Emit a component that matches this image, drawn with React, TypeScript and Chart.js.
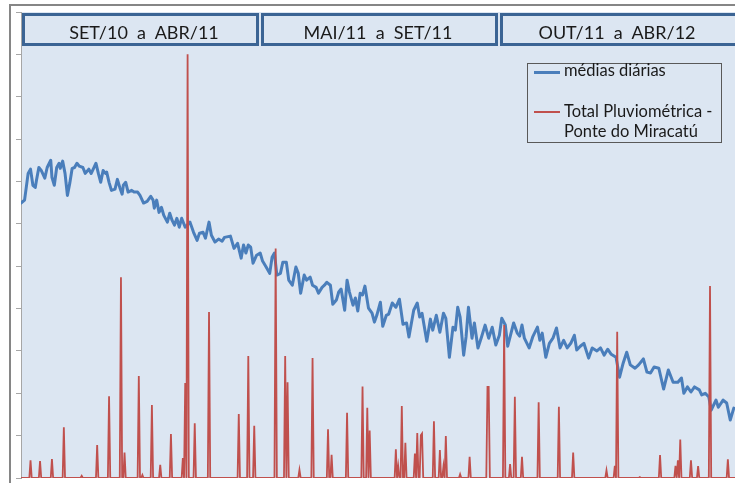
import React, { useEffect, useRef } from "react";
import { Chart, registerables } from "chart.js";

Chart.register(...registerables);

// ---- data (day index from start of SET/10, values in axis units) ----
const blueDays = [
  0, 3, 6, 8, 10, 12, 13, 15, 17, 20, 22, 25, 26, 28, 30, 32, 33, 35, 37, 39,
  41, 43, 45, 47, 49, 52, 54, 57, 59, 61, 63, 65, 67, 69, 71, 72, 74, 76, 79, 81,
  83, 85, 86, 88, 90, 93, 95, 98, 100, 103, 106, 109, 111, 112, 114, 116, 118, 120, 123,
  125, 127, 129, 131, 133, 135, 138, 142, 145, 148, 150, 153, 155, 158, 160, 163, 166, 169, 171, 176,
  179, 182, 185, 187, 189, 191, 193, 195, 198, 201, 203, 206, 209, 211, 213, 215, 218, 220, 223, 225,
  228, 231, 233, 235, 238, 240,
  243, 245, 248, 250, 253, 255, 257, 260, 262, 265, 267, 269, 272, 274, 276, 279, 281, 283, 285, 287,
  289, 292, 295, 297, 299, 302, 304, 307, 309, 312, 315, 318, 321, 324, 326, 330, 333, 335, 337, 341,
  344, 346, 349, 352,
  355, 357, 360, 363, 365, 367, 369, 372, 374, 376, 379, 381, 384, 387, 390, 393, 396, 399, 402, 404,
  407, 409, 411, 414, 417, 419, 421, 423, 427, 430, 434, 436, 438, 441, 444, 447, 450, 453, 456, 459,
  462, 465, 467, 470, 473, 477,
  480, 484, 487, 490, 493, 496, 500, 503, 506, 509, 512, 516, 519, 523, 526, 529, 532, 536, 540, 544,
  548, 552, 555, 557, 560, 563, 566, 570, 572, 575, 578, 580, 584, 586, 590, 593, 596, 599,
];
const blueValues = [
  64.9, 65.6, 71.9, 72.9, 69.1, 68.6, 70.3, 73.3, 72.6, 70.8, 73.3, 75.0, 71.0, 69.1, 73.3, 74.3, 73.1, 74.8, 71.9, 66.7,
  69.6, 73.1, 73.3, 74.3, 73.6, 73.3, 71.9, 72.9, 71.9, 73.1, 74.3, 71.9, 69.8, 72.6, 71.9, 72.2, 69.8, 67.9, 68.2, 70.5,
  68.6, 67.0, 69.1, 69.8, 67.5, 67.9, 67.5, 67.5, 66.7, 64.9, 65.3, 66.5, 65.6, 63.7, 65.6, 62.7, 63.9, 62.0, 60.4,
  62.5, 60.8, 59.7, 61.3, 59.2, 61.3, 59.2, 60.4, 58.0, 56.1, 57.8, 58.0, 56.6, 60.4, 57.3, 55.7, 56.4, 55.9, 56.8, 57.1,
  54.2, 55.4, 51.9, 55.0, 53.1, 55.0, 54.5, 50.7, 52.6, 53.1, 51.2, 49.8, 48.3, 52.1, 53.1, 47.9, 48.3, 50.9, 50.9, 46.7,
  45.5, 49.8, 48.3, 43.6, 47.9, 46.7,
  47.4, 45.5, 45.0, 43.6, 45.0, 45.5, 46.2, 45.5, 41.0, 42.0, 43.9, 44.6, 39.6, 46.7, 43.9, 40.8, 42.5, 39.4, 43.6, 43.2,
  45.3, 40.1, 38.9, 36.8, 38.4, 41.5, 35.8, 38.4, 38.7, 41.3, 40.3, 42.2, 36.3, 36.6, 33.3, 39.6, 41.3, 38.0, 38.9, 32.3,
  37.5, 34.9, 38.4, 34.4,
  38.9, 37.7, 28.5, 35.6, 34.9, 40.3, 38.0, 29.0, 33.3, 40.3, 33.0, 36.6, 30.7, 33.3, 36.1, 33.0, 35.6, 31.4, 33.7, 37.7,
  36.1, 31.1, 33.3, 36.6, 34.2, 33.5, 36.1, 33.0, 30.7, 33.3, 35.6, 32.5, 34.2, 28.5, 31.8, 33.0, 35.4, 30.7, 32.5, 30.7,
  31.8, 33.7, 30.2, 31.1, 31.8, 28.3,
  30.7, 30.0, 30.7, 29.0, 30.4, 29.2, 28.5, 23.8, 27.1, 29.7, 26.7, 25.9, 26.7, 28.1, 25.0, 24.8, 26.2, 25.9, 21.0, 25.5,
  22.6, 22.6, 23.6, 20.0, 21.5, 20.3, 21.5, 20.8, 19.6, 20.0, 19.1, 16.0, 18.4, 16.7, 18.4, 17.7, 13.7, 16.5,
];

// rainfall: days with rain (all other days are zero)
const rainDays = [
  8, 16, 26, 36, 51, 64, 74, 84, 87, 99, 102, 110, 117, 126, 136, 138, 140, 146, 158, 183,
  191, 196, 214, 222, 224, 234, 245, 258, 261, 274, 287, 291, 293, 315, 317, 320, 323, 331, 333, 336,
  337, 347, 352, 355, 357, 369, 377, 392, 393, 406, 411, 415, 421, 435, 452, 464, 492, 499, 501, 520,
  537, 550, 552, 554, 563, 569, 579, 594,
];
const rainValues = [
  4.2, 4.0, 4.5, 12.0, 0.5, 7.8, 19.3, 47.4, 6.0, 24.1, 0.7, 17.2, 3.1, 10.4, 4.7, 22.4, 100.0, 12.9, 39.2, 15.1,
  28.8, 12.3, 54.2, 28.8, 22.6, 1.9, 28.3, 11.5, 5.5, 15.4, 21.6, 16.6, 11.2, 6.8, 2.7, 17.0, 8.3, 5.8, 10.6, 10.1,
  10.5, 13.4, 6.6, 2.7, 9.9, 0.9, 5.0, 21.5, 21.5, 36.1, 3.3, 19.2, 5.0, 17.9, 16.8, 6.0, 1.8, 2.9, 34.5, 0.2,
  5.4, 2.9, 4.2, 9.1, 4.2, 2.8, 45.3, 4.4,
];

const periodLabels = ["SET/10  a  ABR/11", "MAI/11  a  SET/11", "OUT/11  a  ABR/12"];
const seriesNames = ["médias diárias", "Total Pluviométrica -", "Ponte do Miracatú"];

const X_MIN = 0;
const X_MAX = 600;
const Y_MIN = 0;
const Y_MAX = 110;
const Y_STEP = 10;

// ---- styles ----
const PLOT_BG = "#dce6f2";
const BLUE = "#4a7ebb";
const RED = "#c0504d";
const BOX_BORDER = "#3b6494";
const FONT = "Lato, 'Open Sans', sans-serif";

const headerBoxes = [
  { left: 22, width: 237, cx: 144 },
  { left: 261, width: 237, cx: 378 },
  { left: 500, width: 240, cx: 617 },
];

export default function App() {
  const ref = useRef<HTMLCanvasElement>(null);

  useEffect(() => {
    if (!ref.current) return;
    const rainMap = new Map<number, number>(rainDays.map((d, i) => [d, rainValues[i]]));
    const rainTable: { x: number; y: number }[] = [];
    for (let d = X_MIN; d <= X_MAX; d++) rainTable.push({ x: d, y: rainMap.get(d) ?? 0 });
    const bluePoints = blueDays.map((d, i) => ({ x: d, y: blueValues[i] }));

    const plotBg = {
      id: "plotBg",
      beforeDraw(chart: any) {
        const { ctx, chartArea: a } = chart;
        ctx.save();
        ctx.fillStyle = PLOT_BG;
        ctx.fillRect(a.left, a.top, a.right - a.left, a.bottom - a.top);
        ctx.restore();
      },
    };

    const chart = new Chart(ref.current, {
      type: "line",
      data: {
        datasets: [
          {
            label: seriesNames[0],
            data: bluePoints,
            borderColor: BLUE,
            borderWidth: 3,
            pointRadius: 0,
            tension: 0,
            borderJoinStyle: "round",
            borderCapStyle: "round",
            order: 2,
          },
          {
            label: seriesNames[1] + " " + seriesNames[2],
            data: rainTable,
            borderColor: RED,
            borderWidth: 1.8,
            pointRadius: 0,
            tension: 0,
            order: 1,
          },
        ],
      },
      options: {
        animation: false,
        responsive: false,
        events: [],
        layout: { padding: { left: 16, top: 12, right: 0, bottom: 5 } },
        plugins: { legend: { display: false }, tooltip: { enabled: false } },
        scales: {
          x: { type: "linear", min: X_MIN, max: X_MAX, display: false },
          y: {
            min: Y_MIN,
            max: Y_MAX,
            ticks: { stepSize: Y_STEP, display: false },
            grid: { drawOnChartArea: false, drawTicks: true, tickLength: 5, color: "#a6a6a6" },
            border: { display: true, color: "#a6a6a6", width: 1 },
          },
        },
      },
      plugins: [plotBg],
    } as any);
    return () => chart.destroy();
  }, []);

  const textBase: React.CSSProperties = {
    position: "absolute",
    fontFamily: FONT,
    lineHeight: 1.2,
    whiteSpace: "pre",
    color: "#1a1a1a",
  };

  return (
    <div
      style={{
        position: "absolute",
        left: 0,
        top: 0,
        width: 735,
        height: 483,
        overflow: "hidden",
        background: "#ffffff",
      }}
    >
      <canvas ref={ref} width={735} height={483} style={{ position: "absolute", left: 0, top: 0 }} />
      {/* outer frame */}
      <div style={{ position: "absolute", left: 9, top: 4, width: 730, height: 2, background: "#868686" }} />
      <div style={{ position: "absolute", left: 9, top: 4, width: 2, height: 485, background: "#868686" }} />
      {/* period header boxes */}
      {headerBoxes.map((b, i) => (
        <div
          key={"box" + i}
          style={{
            position: "absolute",
            left: b.left,
            top: 13,
            width: b.width,
            height: 33,
            boxSizing: "border-box",
            border: `3px solid ${BOX_BORDER}`,
            background: PLOT_BG,
          }}
        />
      ))}
      {headerBoxes.map((b, i) => (
        <div
          key={"lbl" + i}
          style={{ ...textBase, left: b.cx - 150, width: 300, textAlign: "center", top: 21.5, fontSize: 18 }}
        >
          {periodLabels[i]}
        </div>
      ))}
      {/* legend */}
      <div
        style={{
          position: "absolute",
          left: 527,
          top: 63,
          width: 195,
          height: 80,
          boxSizing: "border-box",
          border: "1px solid #595959",
          background: PLOT_BG,
        }}
      />
      <div style={{ position: "absolute", left: 534, top: 71, width: 26, height: 3, background: BLUE }} />
      <div style={{ position: "absolute", left: 534, top: 111, width: 26, height: 1.5, background: RED }} />
      <div style={{ ...textBase, left: 564, top: 61, fontSize: 16.5 }}>{seriesNames[0]}</div>
      <div style={{ ...textBase, left: 564, top: 102, fontSize: 16.5 }}>{seriesNames[1]}</div>
      <div style={{ ...textBase, left: 564, top: 122, fontSize: 16.5 }}>{seriesNames[2]}</div>
    </div>
  );
}
